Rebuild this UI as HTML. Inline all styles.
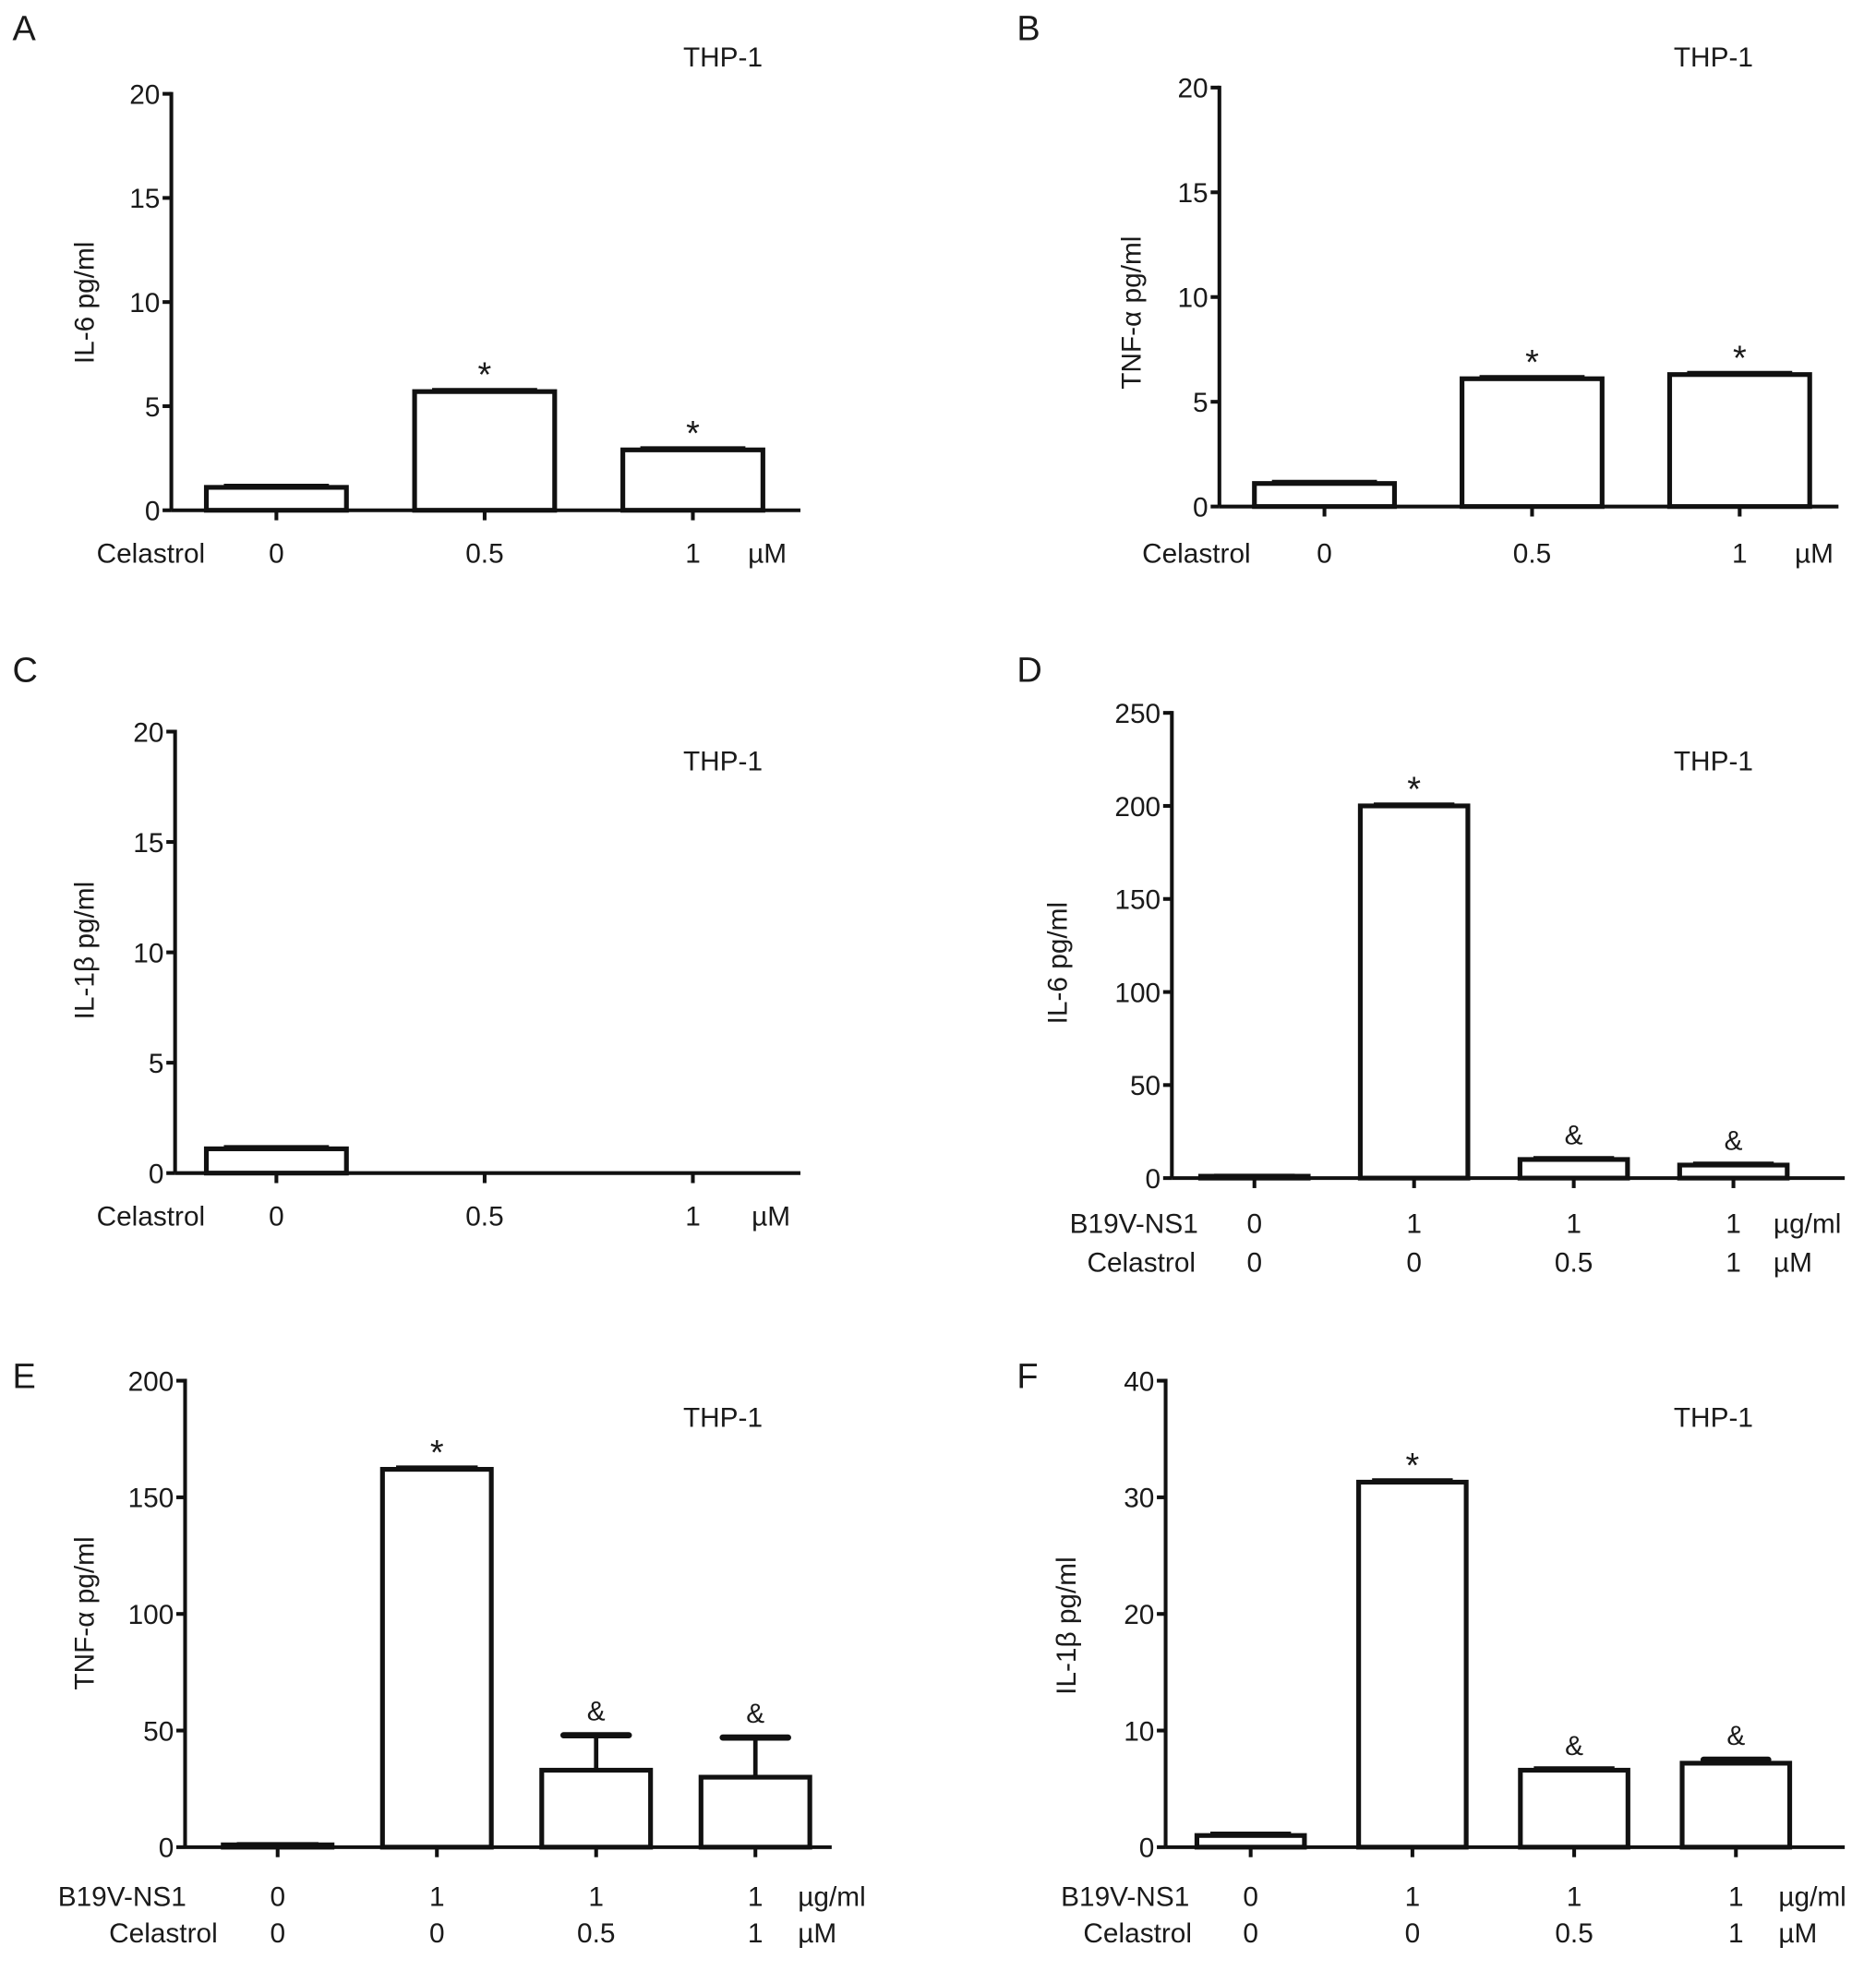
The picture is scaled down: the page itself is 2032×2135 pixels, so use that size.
<!DOCTYPE html>
<html><head><meta charset="utf-8">
<style>
html,body{margin:0;padding:0;background:#fff;}
svg{display:block;}
text{font-family:"Liberation Sans",Arial,sans-serif;fill:#1a1a1a;}
</style></head>
<body>
<svg id="fig" xmlns="http://www.w3.org/2000/svg" width="2032" height="2135" viewBox="0 0 1500 1576"></svg>
<script>
// Panel A data
const aTicks = [0, 5, 10, 15, 20];
const aCats = ["0", "0.5", "1"];
const aValues = [1.1, 5.7, 2.9];
const aErr = [0.1, 0.1, 0.1];
const aMarks = ["", "*", "*"];
// Panel B data
const bTicks = [0, 5, 10, 15, 20];
const bCats = ["0", "0.5", "1"];
const bValues = [1.1, 6.1, 6.3];
const bErr = [0.1, 0.1, 0.1];
const bMarks = ["", "*", "*"];
// Panel C data
const cTicks = [0, 5, 10, 15, 20];
const cCats = ["0", "0.5", "1"];
const cValues = [1.1, 0, 0];
const cErr = [0.1, 0, 0];
const cMarks = ["", "", ""];
// Panel D data
const dTicks = [0, 50, 100, 150, 200, 250];
const dNs1 = ["0", "1", "1", "1"];
const dCel = ["0", "0", "0.5", "1"];
const dValues = [1, 200, 10, 7];
const dErr = [0.5, 1, 1, 1];
const dMarks = ["", "*", "&", "&"];
// Panel E data
const eTicks = [0, 50, 100, 150, 200];
const eNs1 = ["0", "1", "1", "1"];
const eCel = ["0", "0", "0.5", "1"];
const eValues = [1, 162, 33, 30];
const eErr = [0.5, 1, 15, 17];
const eMarks = ["", "*", "&", "&"];
// Panel F data
const fTicks = [0, 10, 20, 30, 40];
const fNs1 = ["0", "1", "1", "1"];
const fCel = ["0", "0", "0.5", "1"];
const fValues = [1, 31.3, 6.6, 7.2];
const fErr = [0.2, 0.2, 0.2, 0.3];
const fMarks = ["", "*", "&", "&"];

const svg = document.getElementById('fig');
const NS = 'http://www.w3.org/2000/svg';
const FS = 22;
function el(tag, attrs, parent){
  const e = document.createElementNS(NS, tag);
  for (const k in attrs) e.setAttribute(k, attrs[k]);
  (parent || svg).appendChild(e);
  return e;
}
function txt(x, y, s, size, anchor, parent){
  const t = el('text', {x:x, y:y, 'font-size':size, 'text-anchor':anchor||'middle'}, parent);
  t.textContent = s;
  return t;
}

function panel(cfg){
  const g = el('g', {});
  
  
  const ymax = cfg.ticks[cfg.ticks.length-1];
  const Y = v => cfg.y0 - (v/ymax)*(cfg.y0 - cfg.ytop);
  const n = cfg.values.length;
  const X = i => cfg.cx0 + i*(cfg.cx1 - cfg.cx0)/(n-1);

  const letter = txt(cfg.lx, cfg.ly, cfg.letter, 28, 'start', g);
  
  
  const thp = txt(cfg.thpx, cfg.thpy, 'THP-1', FS, 'middle', g);
  
  

  const ya = el('line', {x1:cfg.ax, y1:cfg.ytop-1.5, x2:cfg.ax, y2:cfg.y0, stroke:'#111', 'stroke-width':3}, g);
  
  
  cfg.ticks.forEach(t => {
    el('line', {x1:cfg.ax-7, y1:Y(t), x2:cfg.ax, y2:Y(t), stroke:'#111', 'stroke-width':3}, g);
    const tl = txt(cfg.ax-9, Y(t)+8, String(t), FS, 'end', g);
    
    
  });
  const yl = txt(0, 0, cfg.ylabel, FS, 'middle', g);
  yl.setAttribute('transform', `translate(${cfg.ylx},${cfg.yly}) rotate(-90)`);
  
  

  const half = cfg.bw/2;
  cfg.values.forEach((v, i) => {
    const x = X(i);
    if (v > 0) {
      const top = Y(v);
      const e = cfg.err[i];
      const big = e > 0.6*ymax/100;
      if (big) {
        const et = Y(v+e);
        const eb = el('line', {x1:x, y1:top, x2:x, y2:et, stroke:'#111', 'stroke-width':3.5}, g);
        
        
        el('line', {x1:x-half*0.6, y1:et, x2:x+half*0.6, y2:et, stroke:'#111', 'stroke-width':5, 'stroke-linecap':'round'}, g);
      } else {
        el('line', {x1:x-half*0.75, y1:Y(v+e), x2:x+half*0.75, y2:Y(v+e), stroke:'#111', 'stroke-width':2.5}, g);
      }
      const r = el('rect', {x:x-half, y:top, width:cfg.bw, height:cfg.y0-top, fill:'#fff', stroke:'#111', 'stroke-width':3.8}, g);
      
      
      if (cfg.marks[i]) {
        const isStar = cfg.marks[i]==='*';
        const mt = Y(v + (big ? e : 0)) - (isStar ? 4 : 12);
        const m = txt(x, mt, cfg.marks[i], isStar ? 28 : 22, 'middle', g);
        
        
      }
    }
    el('line', {x1:x, y1:cfg.y0, x2:x, y2:cfg.y0+8, stroke:'#111', 'stroke-width':3}, g);
  });
  const xa = el('line', {x1:cfg.ax, y1:cfg.y0, x2:cfg.axEnd, y2:cfg.y0, stroke:'#111', 'stroke-width':3}, g);
  
  

  cfg.rows.forEach(row => {
    const rl = txt(row.lx, row.y, row.label, FS, 'end', g);
    
    
    row.vals.forEach((s, i) => {
      const c = txt(X(i), row.y, s, FS, 'middle', g);
      
      
    });
    const u = txt(row.ux, row.y, row.unit, FS, 'start', g);
    
    
  });
}

panel({letter:'A', lx:10, ly:32, thpx:578, thpy:53, ax:137, ytop:75, y0:408, axEnd:640,
  cx0:221, cx1:554, bw:112, ticks:aTicks, values:aValues, err:aErr, marks:aMarks,
  ylabel:'IL-6 pg/ml', ylx:75, yly:242,
  rows:[{label:'Celastrol', lx:164, y:450, vals:aCats, unit:'µM', ux:598}]});
panel({letter:'B', lx:813, ly:32, thpx:1370, thpy:53, ax:975, ytop:70, y0:405, axEnd:1470,
  cx0:1059, cx1:1391, bw:112, ticks:bTicks, values:bValues, err:bErr, marks:bMarks,
  ylabel:'TNF-α pg/ml', ylx:912, yly:250,
  rows:[{label:'Celastrol', lx:1000, y:450, vals:bCats, unit:'µM', ux:1435}]});
panel({letter:'C', lx:10, ly:545, thpx:578, thpy:616, ax:140, ytop:585, y0:938, axEnd:640,
  cx0:221, cx1:554, bw:112, ticks:cTicks, values:cValues, err:cErr, marks:cMarks,
  ylabel:'IL-1β pg/ml', ylx:75, yly:760,
  rows:[{label:'Celastrol', lx:164, y:980, vals:cCats, unit:'µM', ux:601}]});
panel({letter:'D', lx:813, ly:545, thpx:1370, thpy:616, ax:937, ytop:570, y0:942, axEnd:1475,
  cx0:1003, cx1:1386, bw:86, ticks:dTicks, values:dValues, err:dErr, marks:dMarks,
  ylabel:'IL-6 pg/ml', ylx:853, yly:770,
  rows:[{label:'B19V-NS1', lx:958, y:986, vals:dNs1, unit:'µg/ml', ux:1418},
        {label:'Celastrol', lx:956, y:1017, vals:dCel, unit:'µM', ux:1418}]});
panel({letter:'E', lx:10, ly:1110, thpx:578, thpy:1141, ax:148, ytop:1104, y0:1477, axEnd:665,
  cx0:222, cx1:604, bw:87, ticks:eTicks, values:eValues, err:eErr, marks:eMarks,
  ylabel:'TNF-α pg/ml', ylx:75, yly:1290,
  rows:[{label:'B19V-NS1', lx:149, y:1524, vals:eNs1, unit:'µg/ml', ux:638},
        {label:'Celastrol', lx:174, y:1553, vals:eCel, unit:'µM', ux:638}]});
panel({letter:'F', lx:813, ly:1110, thpx:1370, thpy:1141, ax:932, ytop:1104, y0:1477, axEnd:1475,
  cx0:1000, cx1:1388, bw:86, ticks:fTicks, values:fValues, err:fErr, marks:fMarks,
  ylabel:'IL-1β pg/ml', ylx:860, yly:1300,
  rows:[{label:'B19V-NS1', lx:951, y:1524, vals:fNs1, unit:'µg/ml', ux:1422},
        {label:'Celastrol', lx:953, y:1553, vals:fCel, unit:'µM', ux:1422}]});
</script>
</body></html>
